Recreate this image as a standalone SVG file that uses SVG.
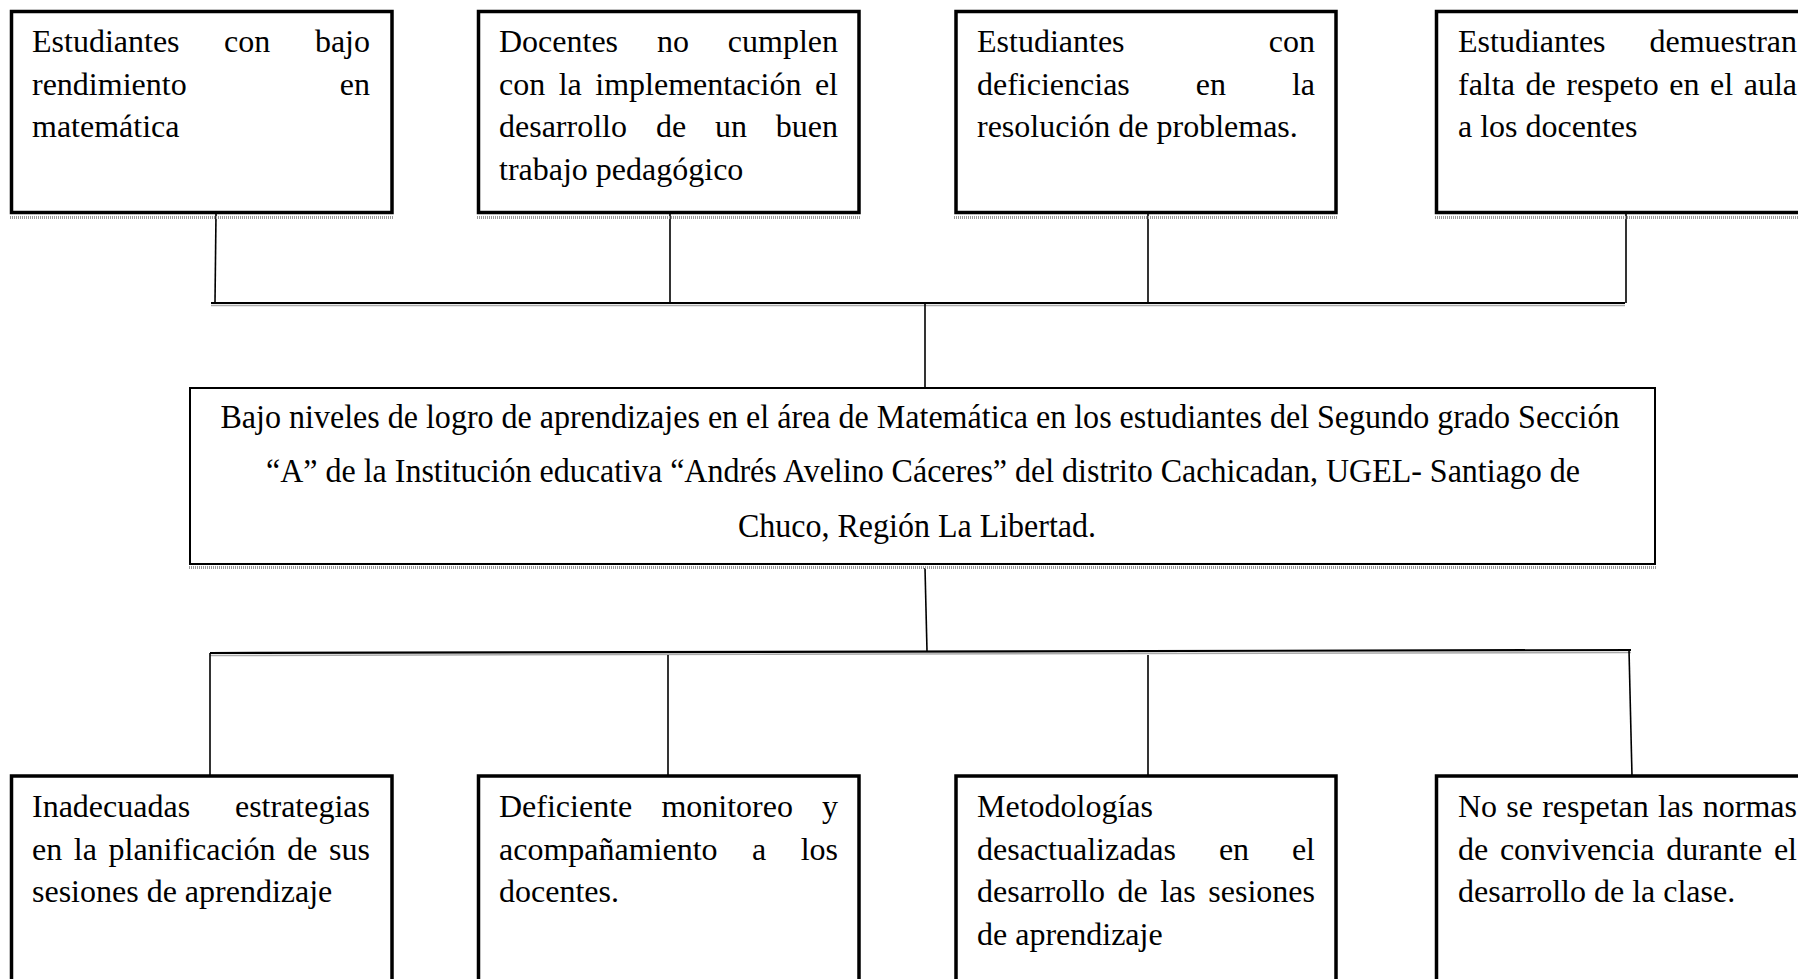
<svg xmlns="http://www.w3.org/2000/svg" width="1798" height="979" viewBox="0 0 1798 979">
<style>
.bg{fill:#fff}
.box{fill:#fff;stroke:#000;stroke-width:3.5}
.cbox{fill:#fff;stroke:#000;stroke-width:2}
.sh{stroke:#999;stroke-width:3;stroke-dasharray:1 1;fill:none}
.ln{stroke:#000;stroke-width:1.6;fill:none}
.hl{stroke:#000;stroke-width:2.2;fill:none}
.hs{stroke:#aaa;stroke-width:1.5;fill:none}
text{font-family:"Liberation Serif","Times New Roman",serif;font-size:32px;fill:#000}
.r{text-anchor:end}
.c{font-size:33px;text-anchor:middle}
</style>
<rect class="bg" x="0" y="0" width="1798" height="979"/>

<g id="connectors">
  <line class="ln" x1="216" y1="214" x2="215" y2="303"/>
  <line class="ln" x1="670" y1="214" x2="670" y2="303"/>
  <line class="ln" x1="1148" y1="214" x2="1148" y2="303"/>
  <line class="ln" x1="1626" y1="214" x2="1626" y2="303"/>
  <line class="hs" x1="211" y1="305.5" x2="1625" y2="305.5"/>
  <line class="hl" x1="211" y1="303" x2="1625" y2="303"/>
  <line class="ln" x1="925" y1="303" x2="925" y2="388"/>
  <line class="ln" x1="925" y1="568" x2="927" y2="651"/>
  <line class="hs" x1="210" y1="655.5" x2="1631" y2="652.5"/>
  <line class="hl" x1="210" y1="653" x2="1631" y2="650"/>
  <line class="ln" x1="210" y1="653" x2="210" y2="776"/>
  <line class="ln" x1="668" y1="655" x2="668" y2="776"/>
  <line class="ln" x1="1148" y1="655" x2="1148" y2="776"/>
  <line class="ln" x1="1629" y1="650" x2="1632" y2="776"/>
</g>

<g id="top1">
  <rect class="box" x="11.5" y="11.5" width="380.5" height="201"/>
  <line class="sh" x1="10" y1="217.5" x2="394" y2="217.5"/>
  <text y="52"><tspan x="32">Estudiantes</tspan><tspan x="224.1">con</tspan></text>
  <text class="r" x="370" y="52">bajo</text>
  <text x="32" y="94.5">rendimiento</text>
  <text class="r" x="370" y="94.5">en</text>
  <text x="32" y="137">matemática</text>
</g>

<g id="top2">
  <rect class="box" x="478.5" y="11.5" width="380.5" height="201"/>
  <line class="sh" x1="477" y1="217.5" x2="861" y2="217.5"/>
  <text y="52"><tspan x="499">Docentes</tspan><tspan x="656.9">no</tspan></text>
  <text class="r" x="838" y="52">cumplen</text>
  <text y="94.5"><tspan x="499">con</tspan><tspan x="558.7">la</tspan><tspan x="595.3">implementación</tspan></text>
  <text class="r" x="838" y="94.5">el</text>
  <text y="137"><tspan x="499">desarrollo</tspan><tspan x="655.9">de</tspan><tspan x="715">un</tspan></text>
  <text class="r" x="838" y="137">buen</text>
  <text x="499" y="179.5">trabajo pedagógico</text>
</g>

<g id="top3">
  <rect class="box" x="956" y="11.5" width="380" height="201"/>
  <line class="sh" x1="954" y1="217.5" x2="1338" y2="217.5"/>
  <text x="977" y="52">Estudiantes</text>
  <text class="r" x="1315" y="52">con</text>
  <text y="94.5"><tspan x="977">deficiencias</tspan><tspan x="1195.8">en</tspan></text>
  <text class="r" x="1315" y="94.5">la</text>
  <text x="977" y="137">resolución de problemas.</text>
</g>

<g id="top4">
  <rect class="box" x="1436.5" y="11.5" width="400" height="201"/>
  <line class="sh" x1="1435" y1="217.5" x2="1798" y2="217.5"/>
  <text x="1458" y="52">Estudiantes</text>
  <text class="r" x="1797" y="52">demuestran</text>
  <text y="94.5"><tspan x="1458">falta</tspan><tspan x="1525.5">de</tspan><tspan x="1566.3">respeto</tspan><tspan x="1669.3">en</tspan><tspan x="1710.1">el</tspan></text>
  <text class="r" x="1797" y="94.5">aula</text>
  <text x="1458" y="137">a los docentes</text>
</g>

<g id="center">
  <rect class="cbox" x="190" y="388" width="1465" height="176"/>
  <line class="sh" x1="189" y1="567.5" x2="1656" y2="567.5"/>
  <text class="c" x="920" y="428" textLength="1399" lengthAdjust="spacingAndGlyphs">Bajo niveles de logro de aprendizajes en el área de Matemática en los estudiantes del Segundo grado Sección</text>
  <text class="c" x="923" y="482" textLength="1314" lengthAdjust="spacingAndGlyphs">“A” de la Institución educativa “Andrés Avelino Cáceres” del distrito Cachicadan, UGEL- Santiago de</text>
  <text class="c" x="917" y="537" textLength="358" lengthAdjust="spacingAndGlyphs">Chuco, Región La Libertad.</text>
</g>

<g id="bottom1">
  <rect class="box" x="11.5" y="776" width="380.5" height="230"/>
  <text x="32" y="817">Inadecuadas</text>
  <text class="r" x="370" y="817">estrategias</text>
  <text y="859.5"><tspan x="32">en</tspan><tspan x="73.8">la</tspan><tspan x="108.5">planificación</tspan><tspan x="287.2">de</tspan></text>
  <text class="r" x="370" y="859.5">sus</text>
  <text x="32" y="902">sesiones de aprendizaje</text>
</g>

<g id="bottom2">
  <rect class="box" x="478.5" y="776" width="380.5" height="230"/>
  <text y="817"><tspan x="499">Deficiente</tspan><tspan x="661.4">monitoreo</tspan></text>
  <text class="r" x="838" y="817">y</text>
  <text y="859.5"><tspan x="499">acompañamiento</tspan><tspan x="752.1">a</tspan></text>
  <text class="r" x="838" y="859.5">los</text>
  <text x="499" y="902">docentes.</text>
</g>

<g id="bottom3">
  <rect class="box" x="956" y="776" width="380" height="230"/>
  <text x="977" y="817">Metodologías</text>
  <text y="859.5"><tspan x="977">desactualizadas</tspan><tspan x="1218.9">en</tspan></text>
  <text class="r" x="1315" y="859.5">el</text>
  <text y="902"><tspan x="977">desarrollo</tspan><tspan x="1117.5">de</tspan><tspan x="1160.2">las</tspan></text>
  <text class="r" x="1315" y="902">sesiones</text>
  <text x="977" y="944.5">de aprendizaje</text>
</g>

<g id="bottom4">
  <rect class="box" x="1436.5" y="776" width="400" height="230"/>
  <text y="817"><tspan x="1458">No</tspan><tspan x="1506.3">se</tspan><tspan x="1542.2">respetan</tspan><tspan x="1658">las</tspan></text>
  <text class="r" x="1797" y="817">normas</text>
  <text y="859.5"><tspan x="1458">de</tspan><tspan x="1499.9">convivencia</tspan><tspan x="1666.2">durante</tspan></text>
  <text class="r" x="1797" y="859.5">el</text>
  <text x="1458" y="902">desarrollo de la clase.</text>
</g>
</svg>
